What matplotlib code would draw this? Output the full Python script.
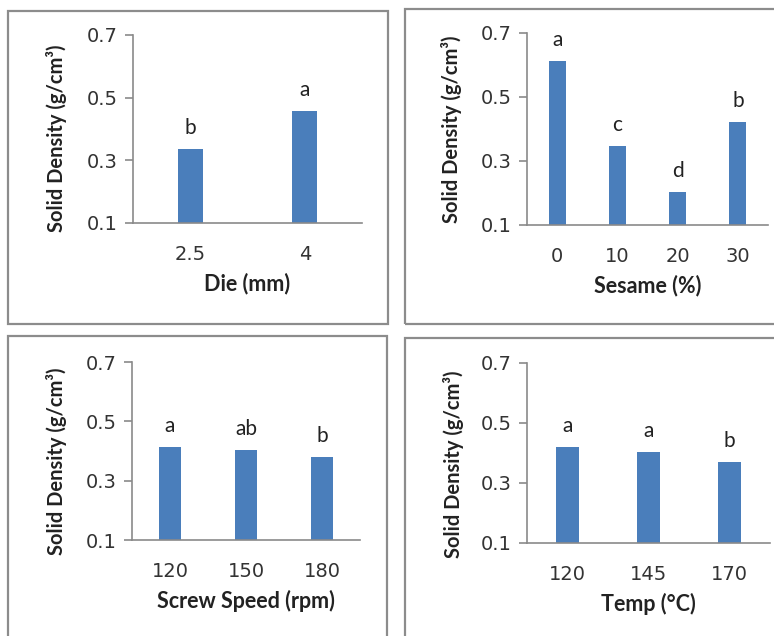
import matplotlib
matplotlib.use("Agg")
import matplotlib.pyplot as plt
from matplotlib.patches import Rectangle

plt.rcParams['font.family'] = ['Lato', 'DejaVu Sans']

# Solid density means (g/cm3) with significance letters for each factor
die_levels = ["2.5", "4"]
die_density = [0.335, 0.456]
die_groups = ["b", "a"]

sesame_levels = ["0", "10", "20", "30"]
sesame_density = [0.612, 0.347, 0.203, 0.422]
sesame_groups = ["a", "c", "d", "b"]

speed_levels = ["120", "150", "180"]
speed_density = [0.413, 0.403, 0.380]
speed_groups = ["a", "ab", "b"]

temp_levels = ["120", "145", "170"]
temp_density = [0.420, 0.403, 0.370]
temp_groups = ["a", "a", "b"]

W, H = 774, 636
fig = plt.figure(figsize=(W / 100, H / 100), dpi=100)

BAR = '#4a7ebb'
AXIS = '#8a8a8a'
FRAME = '#8c8c8c'


def px_rect(x0, y0, x1, y1):
    # pixel box (top-left origin) -> figure fraction [left, bottom, width, height]
    return [x0 / W, 1 - y1 / H, (x1 - x0) / W, (y1 - y0) / H]


def panel(box, frame, levels, values, groups, xlabel, width, ylab_xy):
    # grey frame around each chart
    l, b, w, h = px_rect(*frame)
    fig.patches.append(Rectangle((l, b), w, h, transform=fig.transFigure,
                                 fill=False, edgecolor=FRAME, linewidth=1.6))
    ax = fig.add_axes(px_rect(*box))
    x = range(len(levels))
    bars = ax.bar(x, values, width=width, color=BAR, bottom=0)
    for rect, g in zip(bars, groups):
        ax.annotate(g, (rect.get_x() + rect.get_width() / 2, rect.get_height()),
                    xytext=(0, 8), textcoords='offset points',
                    ha='center', va='bottom', fontsize=15, color='#222222')
    ax.set_xlim(-0.5, len(levels) - 0.5)
    ax.set_ylim(0.1, 0.7)
    ax.set_yticks([0.1, 0.3, 0.5, 0.7])
    ax.set_yticklabels(["0.1", "0.3", "0.5", "0.7"], family='DejaVu Sans')
    ax.set_xticks(list(x))
    ax.set_xticklabels(levels, family='DejaVu Sans')
    for s in ('top', 'right'):
        ax.spines[s].set_visible(False)
    for s in ('left', 'bottom'):
        ax.spines[s].set_color(AXIS)
        ax.spines[s].set_linewidth(1.2)
    ax.tick_params(axis='y', length=6, width=1.2, color=AXIS, pad=5,
                   labelsize=14, labelcolor='#333333')
    ax.tick_params(axis='x', length=0, pad=16, labelsize=14, labelcolor='#333333')
    ax.set_xlabel(xlabel, fontsize=15.5, fontweight='bold', color='#222222', labelpad=6)
    ax.set_ylabel("Solid Density (g/cm³)", fontsize=14.5, fontweight='bold',
                  color='#222222')
    ax.yaxis.set_label_coords(*ylab_xy)
    return ax


panel((133, 35, 362, 223), (8, 11, 388, 324),
      die_levels, die_density, die_groups, "Die (mm)", 0.22, (-0.29, 0.45))
panel((527, 33, 768, 225), (405, 9, 790, 324),
      sesame_levels, sesame_density, sesame_groups, "Sesame (%)", 0.28, (-0.27, 0.5))
panel((132, 362, 360, 540), (8, 336, 387, 650),
      speed_levels, speed_density, speed_groups, "Screw Speed (rpm)", 0.29, (-0.285, 0.44))
panel((527, 363, 770, 543), (405, 338, 790, 650),
      temp_levels, temp_density, temp_groups, "Temp (°C)", 0.28, (-0.26, 0.44))

fig.savefig("out.png", dpi=100)
